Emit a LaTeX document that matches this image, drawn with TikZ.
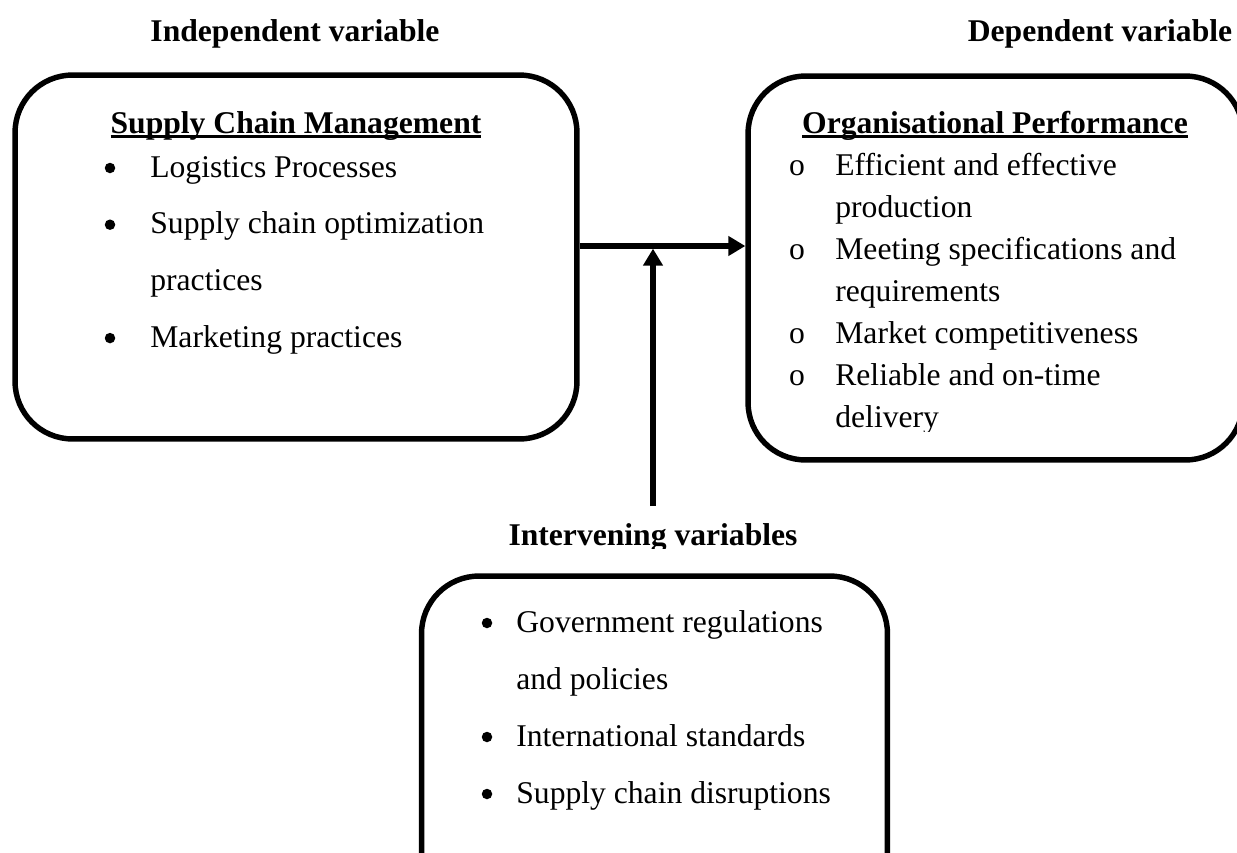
\documentclass[tikz,border=0pt]{standalone}
\usepackage{fontspec}
\setmainfont{Liberation Serif}
\usepackage{tikz}
\usetikzlibrary{calc,positioning,arrows.meta}

% bold heading with a rule through the descenders
\newcommand{\ulhead}[1]{\setbox0\hbox{\bfseries #1}\rlap{\rule[-2.6pt]{\wd0}{1.2pt}}\box0}

\begin{document}
\begin{tikzpicture}[x=0.02cm,y=-0.02cm,
		box/.style={draw,line width=3.1pt,rounded corners=1.15cm,inner sep=0pt},
		item/.style={anchor=base west,inner sep=0pt,font=\fontsize{18}{22}\selectfont},
		omark/.style={anchor=base,inner sep=0pt,font=\fontsize{18}{22}\selectfont},
		dot/.style={circle,fill,inner sep=0pt,minimum size=0.21cm},
		head/.style={anchor=base,inner sep=0pt,font=\fontsize{18}{22}\selectfont\bfseries},
		arr/.style={line width=3.1pt,-{Triangle[length=0.34cm,width=0.38cm]}}]
		\useasboundingbox (0,0) rectangle (1237,852);
		\clip (0,0) rectangle (1237,852);
		% boxes
		\node(scm) [box,minimum width=11.24cm,minimum height=7.28cm] at (296,257) {};
		\node(op) [box,minimum width=9.9cm,minimum height=7.68cm] at (995.5,268) {};
		\node(iv) [box,minimum width=9.32cm,minimum height=6.6cm] at (654.5,741) {};
		% headings
		\node(indep) [head] at (295,41) {Independent variable};
		\node(dep) [head] at (1100,41) {Dependent variable};
		\begin{scope}
			\clip (400,480) rectangle (900,548);
			\node(interv) [head] at (653,545) {Intervening variables};
		\end{scope}
		\node(scm-t) [head] at (296,133) {\ulhead{Supply Chain Management}};
		\node(op-t) [head] at (995,133) {\ulhead{Organisational Performance}};
		% independent variable
		\foreach \r/\t in {0/Logistics Processes,1/Supply chain optimization,2/practices,3/Marketing practices}
			\node(scm-\r) [item] at (150,177+56.7*\r) {\t};
		\foreach \r in {0,1,3}
			\node(scm-b\r) [dot] at (110,168+56.7*\r) {};
		% dependent variable
		\begin{scope}
			\clip (740,90) rectangle (1237,431);
			\foreach \r/\t in {0/Efficient and effective,1/production,2/Meeting specifications and,3/requirements,4/Market competitiveness,5/Reliable and on-time,6/delivery}
				\node(op-\r) [item] at (835,175+42*\r) {\t};
			\foreach \r in {0,2,4,5}
				\node(op-b\r) [omark] at (797,175+42*\r) {o};
		\end{scope}
		% intervening variables
		\foreach \r/\t in {0/Government regulations,1/and policies,2/International standards,3/Supply chain disruptions}
			\node(iv-\r) [item] at (516,632+57*\r) {\t};
		\foreach \r in {0,2,3}
			\node(iv-b\r) [dot] at (487,623+57*\r) {};
		% arrows
		\coordinate (join) at (653,246);
		\coordinate (ivtop) at (653,506);
		\draw[arr] (scm.east |- join) -- (op.west |- join);
		\draw[arr,shorten >=1.5pt] (ivtop) -- (join);
\end{tikzpicture}
\end{document}
